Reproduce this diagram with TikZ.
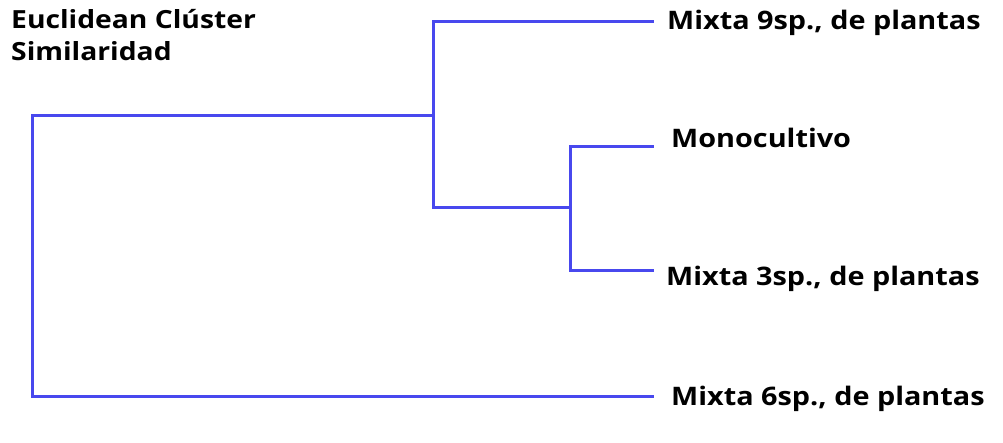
\documentclass[tikz,border=0pt]{standalone}
\usepackage{fontspec}
\setmainfont{Open Sans}[BoldFont={* Bold},FakeStretch=1.13]
\definecolor{dendro}{RGB}{72,72,238}
\begin{document}
\begin{tikzpicture}[x=1pt,y=-1pt,
  branch/.style={draw=dendro,line width=3pt,line cap=rect},
  leaf/.style={anchor=base west,inner sep=0pt,font=\fontsize{25.5}{30}\selectfont\bfseries},
  title/.style={anchor=base west,inner sep=0pt,align=left,font=\fontsize{25}{32}\selectfont\bfseries}]
\useasboundingbox (0,0) rectangle (1003,442);
% title
\node[title] (t1) at (11,28) {Euclidean Clúster};
\node[title] (t2) at (11,60) {Similaridad};
% leaf labels
\node[leaf] (m9) at (667,29) {Mixta 9sp., de plantas};
\node[leaf] (mo) at (671,147) {Monocultivo};
\node[leaf] (m3) at (666,285) {Mixta 3sp., de plantas};
\node[leaf] (m6) at (671,405) {Mixta 6sp., de plantas};
% joints
\coordinate (root) at (32,115);
\coordinate (rootb) at (32,396);
\coordinate (j1) at (433,115);
\coordinate (j1t) at (433,21);
\coordinate (j1b) at (433,207);
\coordinate (j2) at (570,207);
\coordinate (j2t) at (570,146);
\coordinate (j2b) at (570,270);
% leaf ends
\coordinate (e9) at (652,21);
\coordinate (eo) at (652,146);
\coordinate (e3) at (652,270);
\coordinate (e6) at (652,396);
% branches
\draw[branch] (j1) -- (root) -- (rootb) -- (e6);
\draw[branch] (e9) -- (j1t) -- (j1b) -- (j2);
\draw[branch] (eo) -- (j2t) -- (j2b) -- (e3);
\end{tikzpicture}
\end{document}
